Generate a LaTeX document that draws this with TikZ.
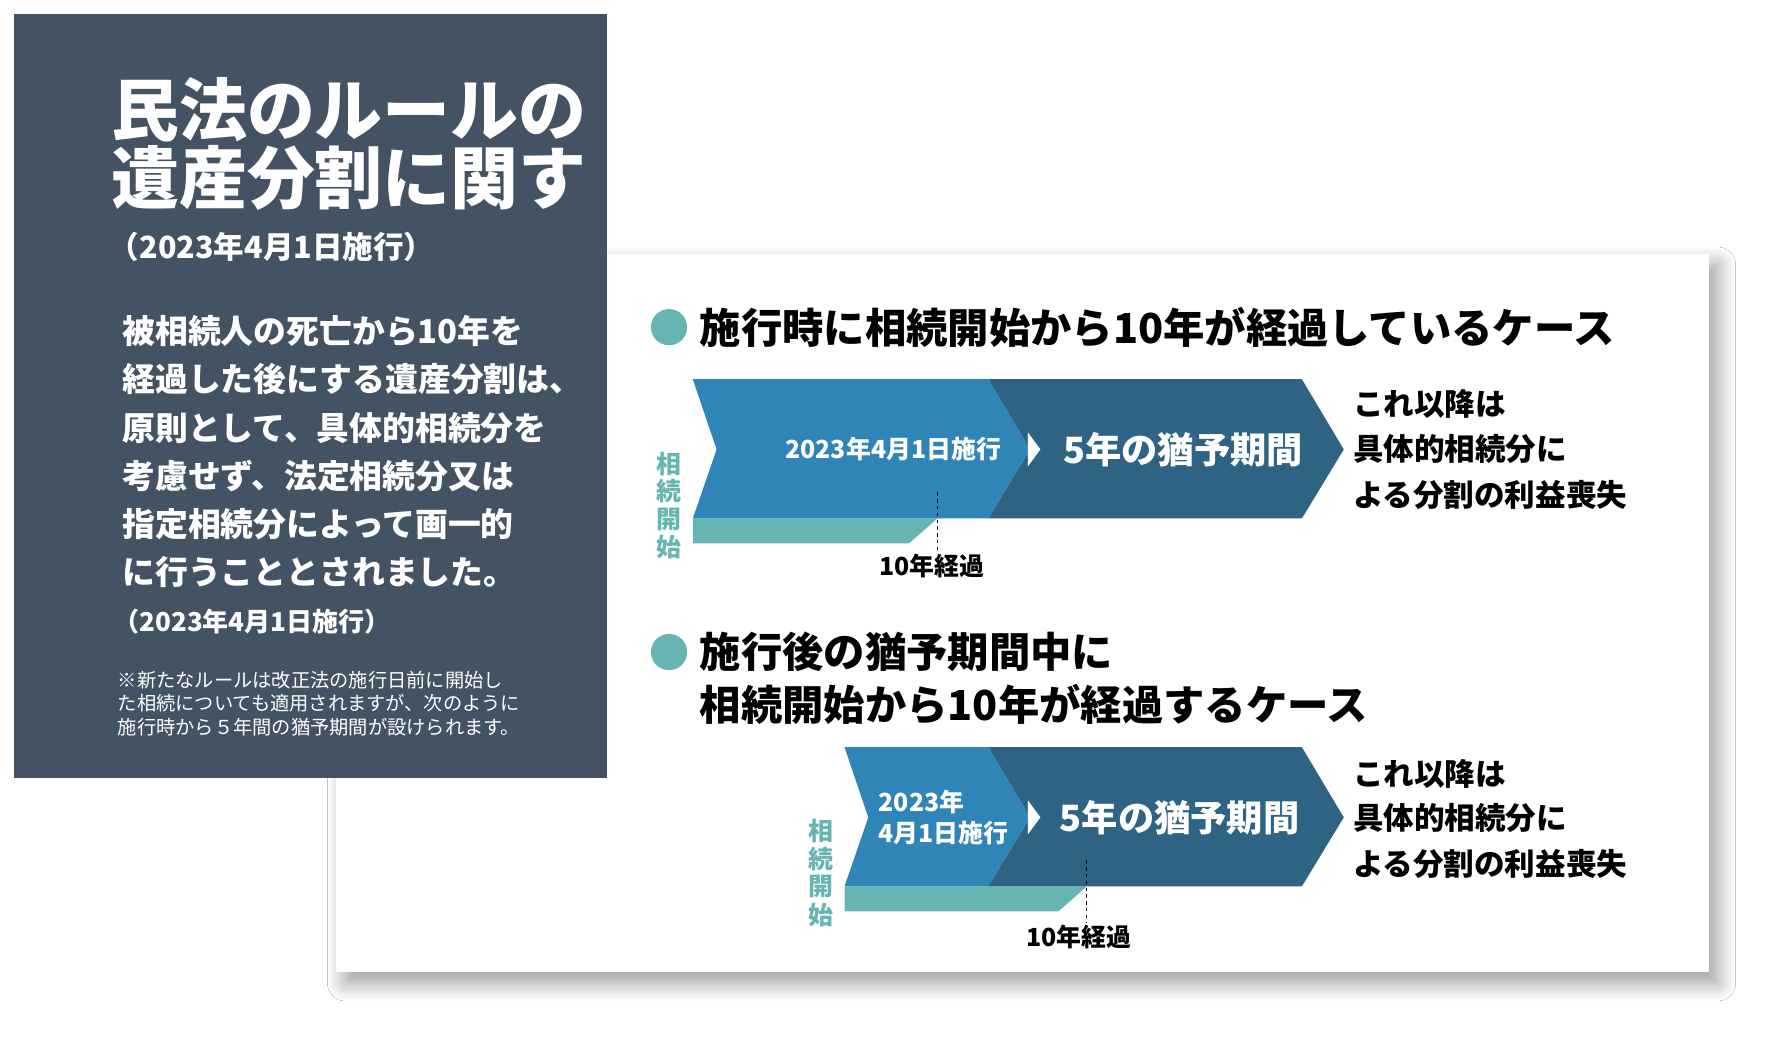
\documentclass[tikz,border=0pt]{standalone}
\usepackage{fontspec}
\setmainfont{Noto Sans CJK JP}
\usetikzlibrary{shadows.blur}
\definecolor{panel}{HTML}{435364}
\definecolor{bblue}{HTML}{3085B8}
\definecolor{dblue}{HTML}{2E6384}
\definecolor{teal}{HTML}{66B5B2}
\newcommand{\fs}[1]{\fontsize{#1}{#1}\selectfont}
\tikzset{
 wt/.style={text=white,inner sep=0pt,anchor=west},
 bt/.style={text=black,inner sep=0pt,anchor=west},
 vt/.style={text=teal,inner sep=0pt,font=\fs{22}\bfseries},
}
\begin{document}
\begin{tikzpicture}[x=1pt,y=-1pt]
\useasboundingbox (0,0) rectangle (1560,919);
\fill[white] (0,0) rectangle (1560,919);
% card
\node[fill=white,minimum width=1212pt,minimum height=634pt,inner sep=0pt,anchor=north west,
 blur shadow={shadow xshift=8pt,shadow yshift=-10pt,shadow blur steps=14,shadow blur radius=16pt,shadow opacity=40}] (card) at (297,224) {};
% panel
\fill[panel] (12,12) rectangle (536,687);
\begin{scope}
\clip (12,12) rectangle (536,687);
\node[wt,font=\fs{60}\bfseries] (t1) at (98,97) {民法のルールの};
\node[wt,font=\fs{60}\bfseries] (t2) at (98,157) {遺産分割に関す};
\end{scope}
\node[wt,font=\fs{27}\bfseries] (d1) at (96,218) {（2023年4月1日施行）};
\foreach \t [count=\i] in {被相続人の死亡から10年を,経過した後にする遺産分割は、,原則として、具体的相続分を,考慮せず、法定相続分又は,指定相続分によって画一的,に行うこととされました。}
 \node[wt,font=\fs{29}\bfseries] (b\i) at (108,250+42.6*\i) {\t};
\node[wt,font=\fs{23}\bfseries] (d2) at (100,549) {（2023年4月1日施行）};
\node[wt,font=\fs{17}] (n1) at (104,601) {※新たなルールは改正法の施行日前に開始し};
\node[wt,font=\fs{17}] (n2) at (104,621) {た相続についても適用されますが、次のように};
\node[wt,font=\fs{17}] (n3) at (104,642) {施行時から５年間の猶予期間が設けられます。};
% heading 1
\fill[teal] (591,289) circle (16) node (c1) {};
\node[bt,font=\fs{36.5}\bfseries] (h1) at (618,289) {施行時に相続開始から10年が経過しているケース};
% diagram 1
\fill[teal] (612,458) -- (828,458) -- (803,480) -- (612,480) -- cycle;
\fill[bblue] (612,335) -- (873,335) -- (910,397) -- (873,458) -- (612,458) -- (633,397) -- cycle;
\fill[dblue] (873,335) -- (1150,335) -- (1187,397) -- (1150,458) -- (873,458) -- (910,397) -- cycle;
\fill[white] (908,382) -- (919,397) -- (908,412) -- cycle;
\coordinate (dA) at (828,435); \coordinate (dB) at (828,488);
\draw[black,dashed,line width=1pt] (dA) -- (dB);
\node[font=\fs{22}\bfseries,inner sep=0pt] (k1) at (823,500) {10年経過};
\node[text=white,font=\fs{22}\bfseries,inner sep=0pt] (s1) at (789,397) {2023年4月1日施行};
\node[text=white,font=\fs{32}\bfseries,inner sep=0pt] (g1) at (1045,397) {5年の猶予期間};
\foreach \c [count=\i] in {相,続,開,始} \node[vt] (v1\i) at (591,385+24.5*\i) {\c};
\node[bt,font=\fs{27}\bfseries] (r11) at (1195,357) {これ以降は};
\node[bt,font=\fs{27}\bfseries] (r12) at (1195,397) {具体的相続分に};
\node[bt,font=\fs{27}\bfseries] (r13) at (1195,437) {よる分割の利益喪失};
% heading 2
\fill[teal] (591,576) circle (16) node (c2) {};
\node[bt,font=\fs{36.5}\bfseries] (h2) at (618,576) {施行後の猶予期間中に};
\node[bt,font=\fs{36.5}\bfseries] (h3) at (618,622) {相続開始から10年が経過するケース};
% diagram 2
\fill[teal] (746,783) -- (960,783) -- (935,805) -- (746,805) -- cycle;
\fill[bblue] (746,660) -- (873,660) -- (910,722) -- (873,783) -- (746,783) -- (767,722) -- cycle;
\fill[dblue] (873,660) -- (1150,660) -- (1187,722) -- (1150,783) -- (873,783) -- (910,722) -- cycle;
\fill[white] (908,707) -- (919,722) -- (908,737) -- cycle;
\coordinate (eA) at (960,760); \coordinate (eB) at (960,815);
\draw[black,dashed,line width=1pt] (eA) -- (eB);
\node[font=\fs{22}\bfseries,inner sep=0pt] (k2) at (953,828) {10年経過};
\node[wt,font=\fs{22}\bfseries] (s2) at (776,708) {2023年};
\node[wt,font=\fs{22}\bfseries] (s3) at (776,736) {4月1日施行};
\node[text=white,font=\fs{32}\bfseries,inner sep=0pt] (g2) at (1042,722) {5年の猶予期間};
\foreach \c [count=\i] in {相,続,開,始} \node[vt] (v2\i) at (725,710+24.5*\i) {\c};
\node[bt,font=\fs{27}\bfseries] (r21) at (1195,684) {これ以降は};
\node[bt,font=\fs{27}\bfseries] (r22) at (1195,723) {具体的相続分に};
\node[bt,font=\fs{27}\bfseries] (r23) at (1195,763) {よる分割の利益喪失};
\end{tikzpicture}
\end{document}
